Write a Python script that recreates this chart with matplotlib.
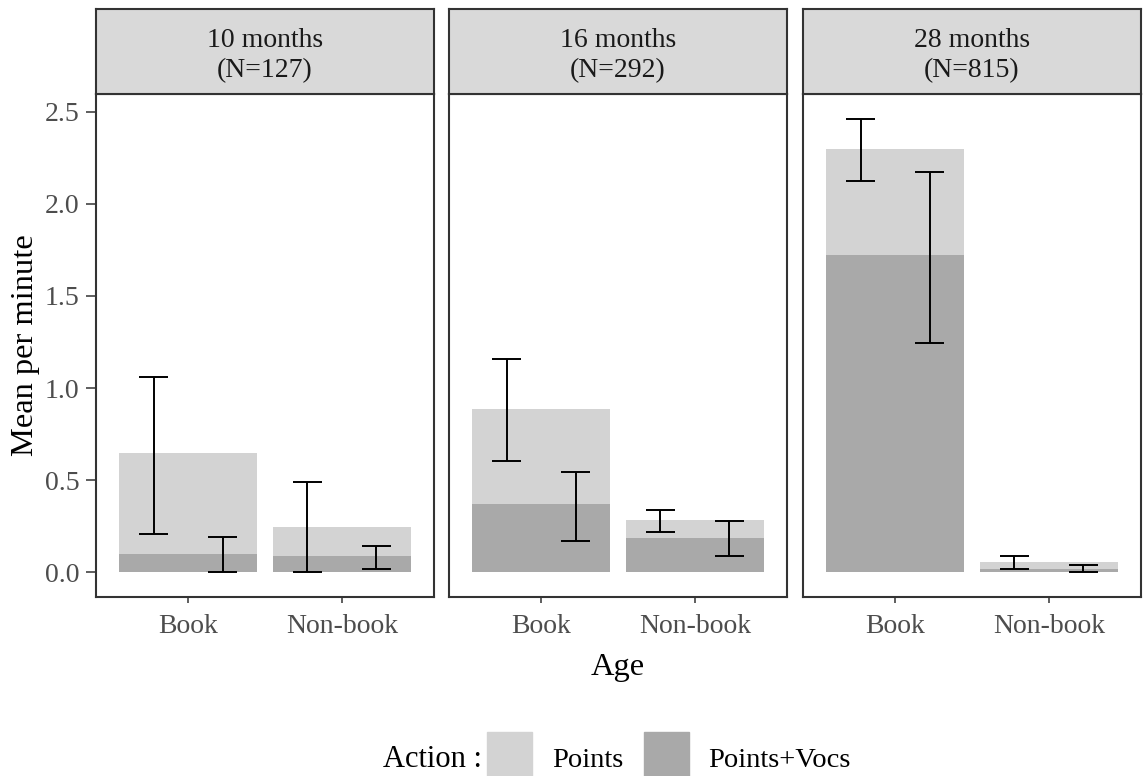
import numpy as np
import matplotlib
matplotlib.use('Agg')
import matplotlib.pyplot as plt
from matplotlib.patches import Rectangle

plt.rcParams['font.family'] = ['Liberation Serif', 'DejaVu Serif']

#%% data: mean per minute with error bar limits, per age group and context
ages = ['10 months\n(N=127)', '16 months\n(N=292)', '28 months\n(N=815)']
contexts = ['Book', 'Non-book']
actions = ['Points', 'Points+Vocs']

points_mean = [[0.645, 0.245], [0.887, 0.282], [2.300, 0.055]]
points_lo = [[0.205, 0.000], [0.603, 0.217], [2.124, 0.015]]
points_hi = [[1.061, 0.490], [1.158, 0.337], [2.460, 0.085]]

vocs_mean = [[0.100, 0.087], [0.369, 0.186], [1.720, 0.015]]
vocs_lo = [[0.000, 0.015], [0.170, 0.085], [1.242, 0.000]]
vocs_hi = [[0.190, 0.140], [0.543, 0.277], [2.174, 0.037]]

yticks = [0.0, 0.5, 1.0, 1.5, 2.0, 2.5]

#%%
colors = {'Points': '#D3D3D3', 'Points+Vocs': '#A9A9A9'}
frame = '#333333'
W, H = 1144, 776

fig = plt.figure(figsize=(W / 100, H / 100), dpi=100)

lefts = [96, 449, 803]
pw = 338
ax_bottom, ax_top = 597, 94
strip_top = 9

x = np.arange(len(contexts))
dodge = 0.225
cap = 0.095

for i, age in enumerate(ages):
    ax = fig.add_axes([lefts[i] / W, 1 - ax_bottom / H, pw / W, (ax_bottom - ax_top) / H])

    # both actions start at zero, the smaller one drawn on top
    ax.bar(x, points_mean[i], width=0.9, color=colors['Points'], zorder=1)
    ax.bar(x, vocs_mean[i], width=0.9, color=colors['Points+Vocs'], zorder=2)

    for off, lo, hi in ((-dodge, points_lo[i], points_hi[i]), (dodge, vocs_lo[i], vocs_hi[i])):
        xe = x + off
        ax.vlines(xe, lo, hi, color='black', lw=1.4, zorder=3)
        ax.hlines(lo, xe - cap, xe + cap, color='black', lw=1.4, zorder=3)
        ax.hlines(hi, xe - cap, xe + cap, color='black', lw=1.4, zorder=3)

    ax.set_xlim(-0.6, 1.6)
    ax.set_ylim(-0.135, 2.597)
    ax.set_xticks(x)
    ax.set_xticklabels(contexts)
    ax.set_yticks(yticks)
    ax.set_yticklabels([f'{v:.1f}' for v in yticks])
    ax.tick_params(colors=frame, labelcolor='#4D4D4D', labelsize=20, width=1.1)
    ax.tick_params(axis='x', length=4.3, pad=8)
    ax.tick_params(axis='y', length=7, pad=4.8)
    if i > 0:
        ax.tick_params(axis='y', left=False, labelleft=False)
    for s in ax.spines.values():
        s.set_color(frame)
        s.set_linewidth(1.5)

    # facet strip
    st = fig.add_axes([lefts[i] / W, 1 - ax_top / H, pw / W, (ax_top - strip_top) / H])
    st.set_facecolor('#D9D9D9')
    st.set_xticks([])
    st.set_yticks([])
    for s in st.spines.values():
        s.set_color(frame)
        s.set_linewidth(1.5)
    st.text(0.5, 0.45, age, ha='center', va='center', fontsize=20,
            linespacing=1.3, color='#1A1A1A', transform=st.transAxes)

fig.text(26 / W, 1 - 345.5 / H, 'Mean per minute', rotation=90,
         ha='center', va='center', fontsize=23.4)
fig.text(618 / W, 1 - 675 / H, 'Age', ha='center', va='baseline', fontsize=23.4)

# legend at the bottom
base = 1 - 767 / H
fig.text(383 / W, base, 'Action :', ha='left', va='baseline', fontsize=22)
key_left = [487, 644]
label_left = [552, 708]
for a, kl, ll in zip(actions, key_left, label_left):
    fig.patches.append(Rectangle((kl / W, 1 - 777 / H), 45 / W, 45 / H,
                                 transform=fig.transFigure, color=colors[a]))
    fig.text(ll / W, base, a, ha='left', va='baseline', fontsize=20.5)

fig.savefig('out.png', dpi=100)
